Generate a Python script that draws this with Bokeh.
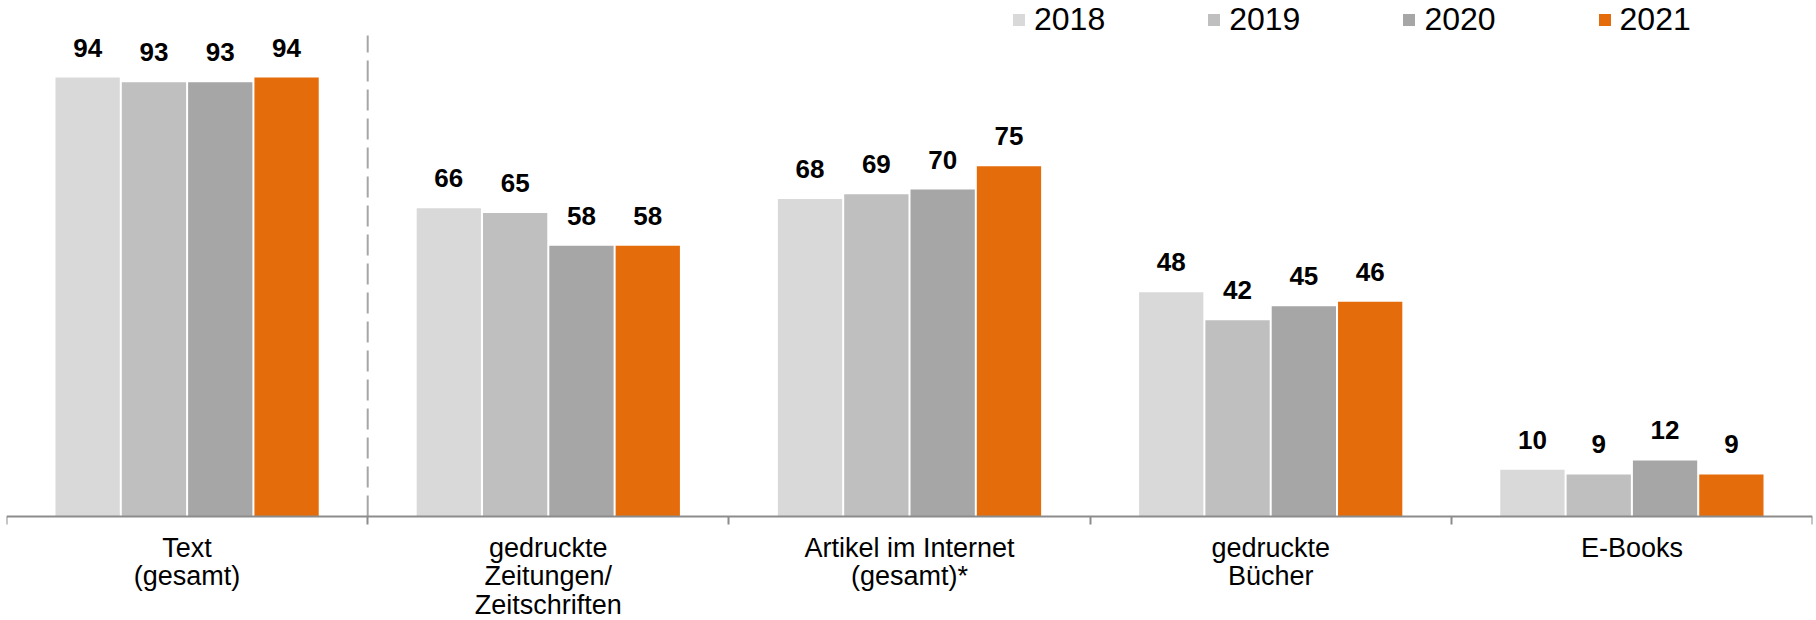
from bokeh.plotting import figure
from bokeh.models import Range1d, FixedTicker, Legend, LegendItem, ColumnDataSource
from bokeh.core.properties import value
from bokeh.embed import file_html
from bokeh.resources import INLINE

categories = ["Text\n(gesamt)", "gedruckte\nZeitungen/\nZeitschriften",
              "Artikel im Internet\n(gesamt)*", "gedruckte\nBücher", "E-Books"]
years = ["2018", "2019", "2020", "2021"]
v2018 = [94, 66, 68, 48, 10]
v2019 = [93, 65, 69, 42, 9]
v2020 = [93, 58, 70, 45, 12]
v2021 = [94, 58, 75, 46, 9]
series = [v2018, v2019, v2020, v2021]
colors = ["#d9d9d9", "#bfbfbf", "#a6a6a6", "#e46c0a"]

FONT = "Liberation Sans"
n = len(categories)
px_per_unit = 4.67
W, H = 1816, 620
axis_y = 516          # pixel row of the baseline inside the figure
p = figure(width=W, height=H, output_backend="svg", toolbar_location=None,
           x_range=Range1d(0, n),
           y_range=Range1d(-(H - axis_y) / px_per_unit, axis_y / px_per_unit),
           y_axis_location=None, min_border_left=6, min_border_right=4,
           min_border_top=0, min_border_bottom=0)
p.outline_line_color = None
p.xgrid.visible = False
p.ygrid.visible = False

offsets = [-0.2754, -0.0918, 0.0918, 0.2754]
bar_w = 0.178
items = []
for yr, vals, col, off in zip(years, series, colors, offsets):
    xs = [i + 0.5 + off for i in range(n)]
    src = ColumnDataSource(dict(x=xs, top=vals, lab=[str(v) for v in vals]))
    r = p.vbar(x="x", top="top", width=bar_w, bottom=0, source=src,
               fill_color=col, line_color=None)
    p.text(x="x", y="top", text="lab", source=src, text_align="center",
           text_baseline="middle", y_offset=-30, text_font=value(FONT),
           text_font_style="bold", text_font_size="26px", text_color="black")
    items.append(LegendItem(label=yr, renderers=[r]))

# dashed separator after the first category
p.segment(x0=[1], y0=[0], x1=[1], y1=[103], line_color="#a6a6a6",
          line_width=2, line_dash="21 8")

legend = Legend(items=items, orientation="horizontal", location=(1005, 582),
                glyph_width=15, glyph_height=15, label_standoff=8, spacing=101,
                padding=0, margin=0, border_line_color=None,
                background_fill_alpha=0, label_text_font=FONT,
                label_text_font_size="32px", label_text_color="black")
p.add_layout(legend, "center")

ax = p.xaxis[0]
ax.fixed_location = 0
ax.ticker = FixedTicker(ticks=[i + 0.5 for i in range(n)],
                        minor_ticks=list(range(n + 1)))
ax.major_label_overrides = {i + 0.5: c for i, c in enumerate(categories)}
ax.axis_line_color = "#8c8c8c"
ax.axis_line_width = 2
ax.major_tick_line_color = None
ax.minor_tick_line_color = "#8c8c8c"
ax.minor_tick_line_width = 2
ax.minor_tick_out = 8
ax.minor_tick_in = 0
ax.major_label_standoff = 8
ax.major_label_text_font = FONT
ax.major_label_text_font_size = "27px"
ax.major_label_text_line_height = 0.96
ax.major_label_text_color = "black"

open("out.html", "w").write(file_html(p, INLINE))
